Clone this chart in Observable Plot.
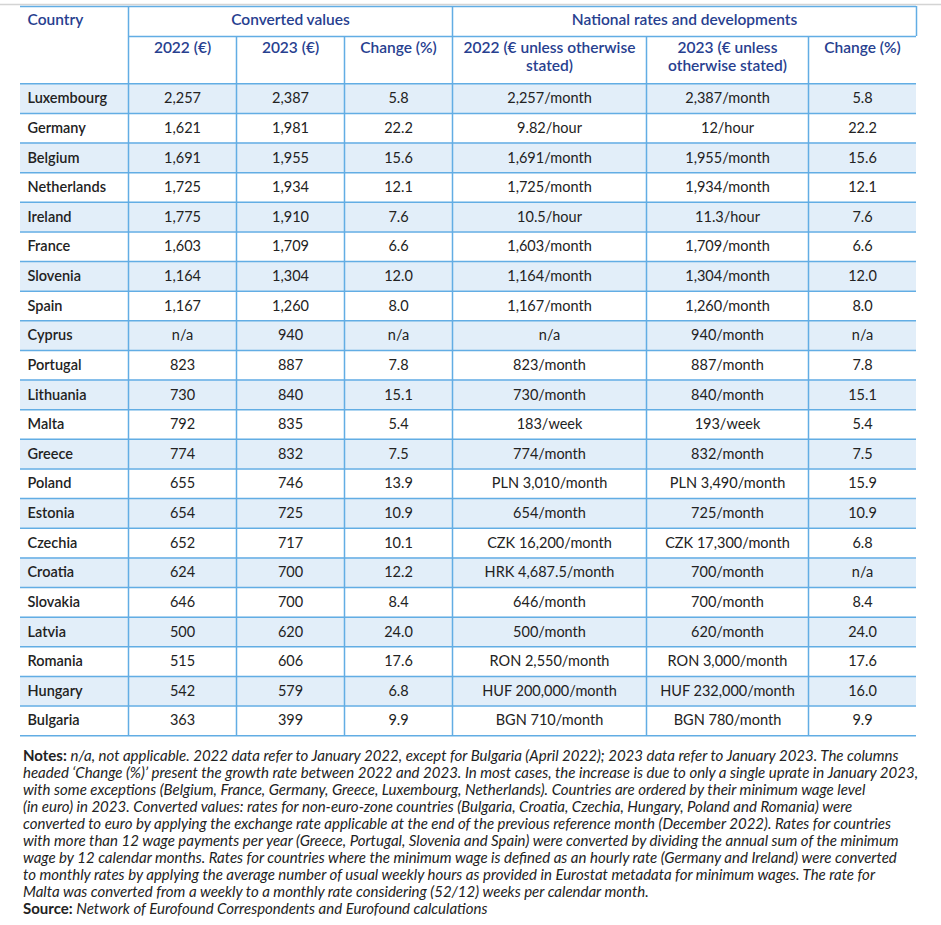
<!DOCTYPE html>
<html>
<head>
<meta charset="utf-8">
<script src="https://cdn.jsdelivr.net/npm/d3@7"></script>
<script src="https://cdn.jsdelivr.net/npm/@observablehq/plot@0.6"></script>
<style>
  html, body { margin: 0; padding: 0; background: #fff; }
  #notes { font-family: Lato, sans-serif; font-size: 15px; line-height: 17px; color: #222; padding-left: 23px; margin-top: 0; }
  #notes div { white-space: nowrap; }
  #notes i { font-style: italic; }
  #notes b { font-weight: 700; }
</style>
</head>
<body>
<div id="chart"></div>
<div id="notes"></div>
<script>
// ---- data ----
const countries = ["Luxembourg","Germany","Belgium","Netherlands","Ireland","France","Slovenia","Spain","Cyprus","Portugal","Lithuania","Malta","Greece","Poland","Estonia","Czechia","Croatia","Slovakia","Latvia","Romania","Hungary","Bulgaria"];
const conv2022 = [2257,1621,1691,1725,1775,1603,1164,1167,null,823,730,792,774,655,654,652,624,646,500,515,542,363];
const conv2023 = [2387,1981,1955,1934,1910,1709,1304,1260,940,887,840,835,832,746,725,717,700,700,620,606,579,399];
const convChange = [5.8,22.2,15.6,12.1,7.6,6.6,12.0,8.0,null,7.8,15.1,5.4,7.5,13.9,10.9,10.1,12.2,8.4,24.0,17.6,6.8,9.9];
const nat2022 = ["2,257/month","9.82/hour","1,691/month","1,725/month","10.5/hour","1,603/month","1,164/month","1,167/month","n/a","823/month","730/month","183/week","774/month","PLN 3,010/month","654/month","CZK 16,200/month","HRK 4,687.5/month","646/month","500/month","RON 2,550/month","HUF 200,000/month","BGN 710/month"];
const nat2023 = ["2,387/month","12/hour","1,955/month","1,934/month","11.3/hour","1,709/month","1,304/month","1,260/month","940/month","887/month","840/month","193/week","832/month","PLN 3,490/month","725/month","CZK 17,300/month","700/month","700/month","620/month","RON 3,000/month","HUF 232,000/month","BGN 780/month"];
const natChange = [5.8,22.2,15.6,12.1,7.6,6.6,12.0,8.0,null,7.8,15.1,5.4,7.5,15.9,10.9,6.8,null,8.4,24.0,17.6,16.0,9.9];
const headerGroups = ["Country","Converted values","National rates and developments"];
const subHeaders = ["2022 (€)","2023 (€)","Change (%)","2022 (€ unless otherwise\nstated)","2023 (€ unless\notherwise stated)","Change (%)"];
const noteLines = [
  "n/a, not applicable. 2022 data refer to January 2022, except for Bulgaria (April 2022); 2023 data refer to January 2023. The columns",
  "headed ‘Change (%)’ present the growth rate between 2022 and 2023. In most cases, the increase is due to only a single uprate in January 2023,",
  "with some exceptions (Belgium, France, Germany, Greece, Luxembourg, Netherlands). Countries are ordered by their minimum wage level",
  "(in euro) in 2023. Converted values: rates for non-euro-zone countries (Bulgaria, Croatia, Czechia, Hungary, Poland and Romania) were",
  "converted to euro by applying the exchange rate applicable at the end of the previous reference month (December 2022). Rates for countries",
  "with more than 12 wage payments per year (Greece, Portugal, Slovenia and Spain) were converted by dividing the annual sum of the minimum",
  "wage by 12 calendar months. Rates for countries where the minimum wage is defined as an hourly rate (Germany and Ireland) were converted",
  "to monthly rates by applying the average number of usual weekly hours as provided in Eurostat metadata for minimum wages. The rate for",
  "Malta was converted from a weekly to a monthly rate considering (52/12) weeks per calendar month."
];
const sourceText = "Network of Eurofound Correspondents and Eurofound calculations";

// ---- layout ----
const W = 941, H = 747;
const edges = [20,128,236,344,452,646,808,916];
const yTop = 6, yMid = 36, yBody = 83.3, rowH = 29.63;
const rowTop = i => yBody + i * rowH;
const yBottom = rowTop(countries.length);
const blue = "#62ade4", hdr = "#27408f", stripe = "#e2eef9";

const fmtInt = v => v == null ? "n/a" : d3.format(",")(v);
const fmt1 = v => v == null ? "n/a" : d3.format(".1f")(v);

const rows = countries.map((c, i) => ({i, cells: [c, fmtInt(conv2022[i]), fmtInt(conv2023[i]), fmt1(convChange[i]), nat2022[i], nat2023[i], fmt1(natChange[i])]}));
const cellData = rows.flatMap(r => r.cells.map((t, j) => ({
  text: t, j,
  x: j === 0 ? edges[0] + 7 : (edges[j] + edges[j+1]) / 2,
  y: rowTop(r.i) + rowH / 2
})));
const stripes = rows.filter(r => r.i % 2 === 0);

const hLines = [
  {y: yTop, x1: edges[0], x2: edges[7]},
  {y: yMid, x1: edges[1], x2: edges[7]},
  ...d3.range(countries.length + 1).map(k => ({y: rowTop(k), x1: edges[0], x2: edges[7]}))
];
const vLines = [
  {x: edges[1], y1: yTop, y2: yBottom},
  {x: edges[2], y1: yMid, y2: yBottom},
  {x: edges[3], y1: yMid, y2: yBottom},
  {x: edges[4], y1: yTop, y2: yBottom},
  {x: edges[5], y1: yMid, y2: yBottom},
  {x: edges[6], y1: yMid, y2: yBottom},
  {x: edges[7], y1: yTop, y2: yMid}
];
const groupHeads = [
  {text: headerGroups[1], x: (edges[1] + edges[4]) / 2},
  {text: headerGroups[2], x: (edges[4] + edges[7]) / 2}
];
const subHeads = subHeaders.map((t, k) => ({text: t, x: (edges[k+1] + edges[k+2]) / 2}));

const font = "Lato, sans-serif";
const chart = Plot.plot({
  width: W, height: H,
  margin: 0,
  x: {domain: [0, W], range: [0, W], axis: null},
  y: {domain: [0, H], range: [0, H], axis: null},
  style: {fontFamily: font, background: "#fff"},
  marks: [
    Plot.ruleY([4], {x1: 0, x2: W, stroke: "#d4d4d4", strokeWidth: 1.5}),
    Plot.rect(stripes, {x1: edges[0], x2: edges[7], y1: r => rowTop(r.i), y2: r => rowTop(r.i) + rowH, fill: stripe}),
    Plot.ruleY(hLines, {y: "y", x1: "x1", x2: "x2", stroke: blue, strokeWidth: 1.5}),
    Plot.ruleX(vLines, {x: "x", y1: "y1", y2: "y2", stroke: blue, strokeWidth: 1.5}),
    Plot.text([headerGroups[0]], {x: edges[0] + 7, y: 20, text: d => d, textAnchor: "start", fill: hdr, fontSize: 15.5, fontWeight: 600}),
    Plot.text(groupHeads, {x: "x", y: 20, text: "text", textAnchor: "middle", fill: hdr, fontSize: 15.5, fontWeight: 600}),
    Plot.text(subHeads, {x: "x", y: 40, text: "text", lineAnchor: "top", lineHeight: 1.15, fill: hdr, fontSize: 15.5, fontWeight: 600}),
    Plot.text(cellData.filter(d => d.j === 0), {x: "x", y: "y", text: "text", textAnchor: "start", fill: "#222", fontSize: 14.5, fontWeight: 600}),
    Plot.text(cellData.filter(d => d.j > 0), {x: "x", y: "y", text: "text", textAnchor: "middle", fill: "#222", fontSize: 14.5})
  ]
});
document.getElementById("chart").appendChild(chart);

const notes = document.getElementById("notes");
noteLines.forEach((t, k) => {
  const div = document.createElement("div");
  if (k === 0) { div.innerHTML = "<b>Notes: </b>"; }
  const i = document.createElement("i"); i.textContent = t; div.appendChild(i);
  notes.appendChild(div);
});
const src = document.createElement("div");
src.innerHTML = "<b>Source: </b>";
const si = document.createElement("i"); si.textContent = sourceText; src.appendChild(si);
notes.appendChild(src);
</script>
</body>
</html>
